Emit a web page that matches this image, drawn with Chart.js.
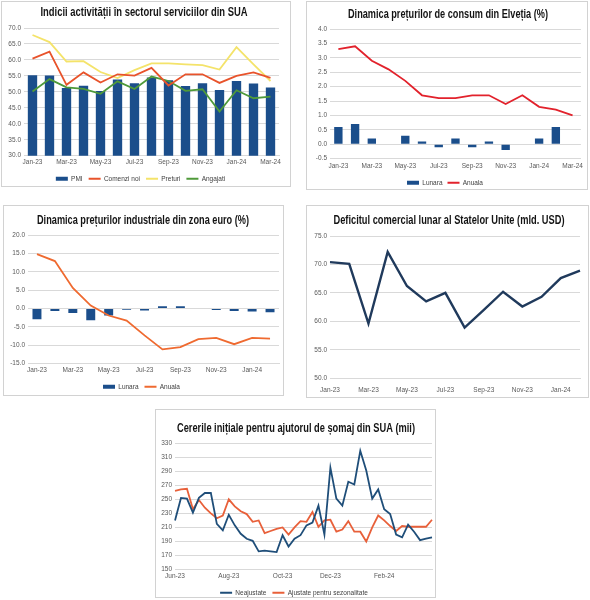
<!DOCTYPE html>
<html>
<head>
<meta charset="utf-8">
<script src="https://cdn.jsdelivr.net/npm/chart.js@4.4.1/dist/chart.umd.min.js"></script>
<style>
  html, body { margin: 0; padding: 0; background: #fff; }
  body { width: 590px; height: 600px; position: relative; overflow: hidden; }
  .panel { position: absolute; border: 1px solid #d2d2d2; box-sizing: border-box; background: #fff; overflow: hidden; }
  .box { position: absolute; left: 0; top: 0; width: 100%; }
  .box canvas { display: block; }
</style>
</head>
<body>
<div class="panel" style="left:1px;top:1px;width:290px;height:186px"><div class="box" style="height:190px"><canvas id="servChart"></canvas></div></div>
<div class="panel" style="left:306px;top:1px;width:282px;height:189px"><div class="box" style="height:194px"><canvas id="cpiChart"></canvas></div></div>
<div class="panel" style="left:3px;top:205px;width:281px;height:191px"><div class="box" style="height:194px"><canvas id="ppiChart"></canvas></div></div>
<div class="panel" style="left:306px;top:205px;width:283px;height:193px"><div class="box" style="height:200px"><canvas id="tradeChart"></canvas></div></div>
<div class="panel" style="left:155px;top:409px;width:281px;height:189px"><div class="box" style="height:196px"><canvas id="claimsChart"></canvas></div></div>
<script>
// luni
const months15 = ['Jan-23', 'Feb-23', 'Mar-23', 'Apr-23', 'May-23', 'Jun-23', 'Jul-23', 'Aug-23', 'Sep-23', 'Oct-23', 'Nov-23', 'Dec-23', 'Jan-24', 'Feb-24', 'Mar-24'];
const months14 = ['Jan-23', 'Feb-23', 'Mar-23', 'Apr-23', 'May-23', 'Jun-23', 'Jul-23', 'Aug-23', 'Sep-23', 'Oct-23', 'Nov-23', 'Dec-23', 'Jan-24', 'Feb-24'];

// 1. servicii SUA
const pmi = [55.2, 55.1, 51.2, 51.9, 50.3, 53.9, 52.7, 54.5, 53.6, 51.8, 52.7, 50.6, 53.4, 52.6, 51.4];
const comenziNoi = [60.4, 62.6, 52.2, 56.1, 52.9, 55.5, 55.1, 57.5, 52.0, 55.5, 55.5, 52.8, 55.0, 56.1, 54.4];
const preturi = [67.8, 65.6, 59.5, 59.6, 56.2, 54.3, 56.8, 58.9, 58.9, 58.6, 58.4, 57.0, 64.0, 58.6, 53.4];
const angajati = [50.1, 54.0, 51.4, 50.9, 49.4, 53.3, 50.9, 54.8, 53.4, 50.3, 50.8, 43.8, 50.5, 48.0, 48.5];

// 2. preturi consum Elvetia
const cpiLunara = [0.6, 0.7, 0.2, 0.0, 0.3, 0.1, -0.1, 0.2, -0.1, 0.1, -0.2, 0.0, 0.2, 0.6, 0.0];
const cpiAnuala = [3.3, 3.4, 2.9, 2.6, 2.2, 1.7, 1.6, 1.6, 1.7, 1.7, 1.4, 1.7, 1.3, 1.2, 1.0];

// 3. preturi industriale zona euro
const ppiLunara = [-2.9, -0.7, -1.2, -3.2, -1.9, -0.3, -0.5, 0.6, 0.6, -0.1, -0.4, -0.7, -0.8, -1.0];
const ppiAnuala = [14.8, 12.9, 5.6, 0.8, -1.9, -3.3, -7.3, -11.1, -10.5, -8.3, -8.0, -9.7, -8.0, -8.2];

// 4. deficit comercial SUA
const deficit = [70.4, 70.1, 59.6, 72.2, 66.2, 63.5, 65.0, 58.9, 62.0, 65.2, 62.6, 64.3, 67.6, 68.9];

// 5. cereri somaj (saptamanal)
const claimWeeks = ['2023-06-03', '2023-06-10', '2023-06-17', '2023-06-24', '2023-07-01', '2023-07-08', '2023-07-15', '2023-07-22', '2023-07-29',
  '2023-08-05', '2023-08-12', '2023-08-19', '2023-08-26', '2023-09-02', '2023-09-09', '2023-09-16', '2023-09-23', '2023-09-30',
  '2023-10-07', '2023-10-14', '2023-10-21', '2023-10-28', '2023-11-04', '2023-11-11', '2023-11-18', '2023-11-25',
  '2023-12-02', '2023-12-09', '2023-12-16', '2023-12-23', '2023-12-30', '2024-01-06', '2024-01-13', '2024-01-20', '2024-01-27',
  '2024-02-03', '2024-02-10', '2024-02-17', '2024-02-24', '2024-03-02', '2024-03-09', '2024-03-16', '2024-03-23', '2024-03-30'];
const neajustate = [220, 252, 251, 231, 252, 259, 259, 215, 206, 228, 213, 201, 194, 191, 176, 177, 176, 175, 199, 183, 194, 199,
  213, 217, 241, 200, 295, 251, 241, 275, 271, 319, 291, 251, 264, 236, 229, 200, 196, 214, 204, 192, 194, 196];
const ajustate = [262, 264, 265, 236, 249, 238, 230, 223, 227, 250, 240, 233, 229, 218, 220, 202, 205, 208, 210, 200, 210, 219,
  218, 232, 211, 220, 221, 204, 207, 219, 204, 204, 190, 210, 227, 220, 212, 205, 212, 211, 211, 211, 211, 221];
const claimTickMonths = ['Jun-23', 'Aug-23', 'Oct-23', 'Dec-23', 'Feb-24'];
const monthNames = ['Jan', 'Feb', 'Mar', 'Apr', 'May', 'Jun', 'Jul', 'Aug', 'Sep', 'Oct', 'Nov', 'Dec'];

const colors = {
    navy: '#1b4e8b',
    navyLine: '#1f4e79',
    tradeLine: '#203a5c',
    redOrange: '#e8532b',
    yellow: '#f4e36a',
    green: '#4f9a3a',
    red: '#e2222c',
    orange: '#ef6a30',
    claimsOrange: '#e8603a',
    grid: '#d9d9d9',
    text: '#595959'
};

Chart.defaults.font.family = "'Liberation Sans', Arial, sans-serif";
Chart.defaults.font.size = 6.5;
Chart.defaults.color = colors.text;
Chart.defaults.animation = false;

// titlu ingust (font condensat, comprimat pe orizontala pana la latimea din original)
const narrowTitle = {
    id: 'narrowTitle',
    afterDraw(chart, args, opts) {
        const ctx = chart.ctx;
        ctx.save();
        ctx.font = "bold 13px 'Liberation Sans Narrow', 'Liberation Sans', sans-serif";
        ctx.fillStyle = '#141414';
        ctx.textAlign = 'center';
        ctx.textBaseline = 'middle';
        const w = ctx.measureText(opts.text).width;
        ctx.translate(opts.x, opts.y);
        ctx.scale(opts.width / w, 1);
        ctx.fillText(opts.text, 0, 0);
        ctx.restore();
    }
};

function legendOpts(pad) {
    return {
        position: 'bottom',
        labels: {
            usePointStyle: true, pointStyleWidth: 12, boxHeight: 4, padding: pad,
            color: '#404040', font: { size: 6.5 },
            sort: (a, b) => a.datasetIndex - b.datasetIndex
        }
    };
}
function everyOther(labels) {
    return function (v, i) { return i % 2 === 0 ? labels[i] : ''; };
}
function xAxis(labels, offset, pad) {
    return {
        offset: offset,
        grid: { display: false, drawTicks: false },
        border: { display: true, color: colors.grid },
        ticks: { autoSkip: false, maxRotation: 0, padding: pad, callback: everyOther(labels) }
    };
}
function yAxis(min, max, step, digits, width) {
    return {
        min: min, max: max,
        grid: { color: colors.grid, drawTicks: false },
        border: { display: false },
        ticks: { stepSize: step, padding: 3, callback: v => v.toFixed(digits) },
        afterFit: scale => { scale.width = width; }
    };
}

// 1. Indicii activitatii in sectorul serviciilor din SUA
new Chart(document.getElementById('servChart'), {
    data: {
        labels: months15,
        datasets: [
            { type: 'bar', label: 'PMI', data: pmi, backgroundColor: colors.navy, borderWidth: 0, pointStyle: 'rect', barPercentage: 0.55, categoryPercentage: 1, order: 2 },
            { type: 'line', label: 'Comenzi noi', data: comenziNoi, borderColor: colors.redOrange, backgroundColor: colors.redOrange, borderWidth: 1.8, pointRadius: 0, pointStyle: 'line', tension: 0, order: 1 },
            { type: 'line', label: 'Preturi', data: preturi, borderColor: colors.yellow, backgroundColor: colors.yellow, borderWidth: 1.8, pointRadius: 0, pointStyle: 'line', tension: 0, order: 1 },
            { type: 'line', label: 'Angajati', data: angajati, borderColor: colors.green, backgroundColor: colors.green, borderWidth: 1.8, pointRadius: 0, pointStyle: 'line', tension: 0, order: 1 }
        ]
    },
    plugins: [narrowTitle],
    options: {
        responsive: true,
        maintainAspectRatio: false,
        layout: { padding: { left: 0, right: 11, top: 26, bottom: 0 } },
        plugins: {
            narrowTitle: { text: 'Indicii activității în sectorul serviciilor din SUA', x: 142, y: 10, width: 207 },
            title: { display: false },
            legend: legendOpts(6),
            tooltip: { enabled: false }
        },
        scales: {
            x: xAxis(months15, true, 3),
            y: yAxis(30, 70, 5, 1, 22)
        }
    }
});

// 2. Dinamica preturilor de consum din Elvetia
new Chart(document.getElementById('cpiChart'), {
    data: {
        labels: months15,
        datasets: [
            { type: 'bar', label: 'Lunara', data: cpiLunara, backgroundColor: colors.navy, borderWidth: 0, pointStyle: 'rect', barPercentage: 0.5, categoryPercentage: 1, order: 2 },
            { type: 'line', label: 'Anuala', data: cpiAnuala, borderColor: colors.red, backgroundColor: colors.red, borderWidth: 1.8, pointRadius: 0, pointStyle: 'line', tension: 0, order: 1 }
        ]
    },
    plugins: [narrowTitle],
    options: {
        responsive: true,
        maintainAspectRatio: false,
        layout: { padding: { left: 0, right: 4, top: 27, bottom: 0 } },
        plugins: {
            narrowTitle: { text: 'Dinamica prețurilor de consum din Elveția (%)', x: 141, y: 12, width: 200 },
            title: { display: false },
            legend: legendOpts(5),
            tooltip: { enabled: false }
        },
        scales: { x: xAxis(months15, true, 4), y: yAxis(-0.5, 4.0, 0.5, 1, 23) }
    }
});

// 3. Dinamica preturilor industriale din zona euro
new Chart(document.getElementById('ppiChart'), {
    data: {
        labels: months14,
        datasets: [
            { type: 'bar', label: 'Lunara', data: ppiLunara, backgroundColor: colors.navy, borderWidth: 0, pointStyle: 'rect', barPercentage: 0.5, categoryPercentage: 1, order: 2 },
            { type: 'line', label: 'Anuala', data: ppiAnuala, borderColor: colors.orange, backgroundColor: colors.orange, borderWidth: 1.8, pointRadius: 0, pointStyle: 'line', tension: 0, order: 1 }
        ]
    },
    plugins: [narrowTitle],
    options: {
        responsive: true,
        maintainAspectRatio: false,
        layout: { padding: { left: 0, right: 4, top: 29, bottom: 0 } },
        plugins: {
            narrowTitle: { text: 'Dinamica prețurilor industriale din zona euro (%)', x: 139, y: 14, width: 212 },
            title: { display: false },
            legend: legendOpts(6),
            tooltip: { enabled: false }
        },
        scales: { x: xAxis(months14, true, 3), y: yAxis(-15, 20, 5, 1, 24) }
    }
});

// 4. Deficitul comercial lunar al Statelor Unite
new Chart(document.getElementById('tradeChart'), {
    type: 'line',
    data: {
        labels: months14,
        datasets: [{ label: 'Deficit', data: deficit, borderColor: colors.tradeLine, borderWidth: 2.4, pointRadius: 0, tension: 0 }]
    },
    plugins: [narrowTitle],
    options: {
        responsive: true,
        maintainAspectRatio: false,
        layout: { padding: { left: 0, right: 5, top: 30, bottom: 4 } },
        plugins: {
            narrowTitle: { text: 'Deficitul comercial lunar al Statelor Unite (mld. USD)', x: 142, y: 14, width: 231 },
            title: { display: false },
            legend: { display: false },
            tooltip: { enabled: false }
        },
        scales: { x: xAxis(months14, false, 8), y: yAxis(50, 75, 5, 1, 23) }
    }
});

// 5. Cererile initiale pentru ajutorul de somaj din SUA
function weekTick(v, i) {
    const d = claimWeeks[i];
    const day = parseInt(d.slice(8, 10), 10);
    const lbl = monthNames[parseInt(d.slice(5, 7), 10) - 1] + '-' + d.slice(2, 4);
    return day <= 7 && claimTickMonths.includes(lbl) ? lbl : '';
}
new Chart(document.getElementById('claimsChart'), {
    type: 'line',
    data: {
        labels: claimWeeks,
        datasets: [
            { label: 'Neajustate', data: neajustate, borderColor: colors.navyLine, backgroundColor: colors.navyLine, borderWidth: 1.8, pointRadius: 0, pointStyle: 'line', tension: 0 },
            { label: 'Ajustate pentru sezonalitate', data: ajustate, borderColor: colors.claimsOrange, backgroundColor: colors.claimsOrange, borderWidth: 1.8, pointRadius: 0, pointStyle: 'line', tension: 0 }
        ]
    },
    plugins: [narrowTitle],
    options: {
        responsive: true,
        maintainAspectRatio: false,
        layout: { padding: { left: 0, right: 3, top: 33, bottom: 0 } },
        plugins: {
            narrowTitle: { text: 'Cererile inițiale pentru ajutorul de șomaj din SUA (mii)', x: 140, y: 18, width: 238 },
            title: { display: false },
            legend: legendOpts(6),
            tooltip: { enabled: false }
        },
        scales: {
            x: {
                offset: false,
                grid: { display: false, drawTicks: false },
                border: { display: true, color: colors.grid },
                ticks: { autoSkip: false, maxRotation: 0, padding: 3, callback: weekTick }
            },
            y: yAxis(150, 330, 20, 0, 19)
        }
    }
});
</script>
</body>
</html>
